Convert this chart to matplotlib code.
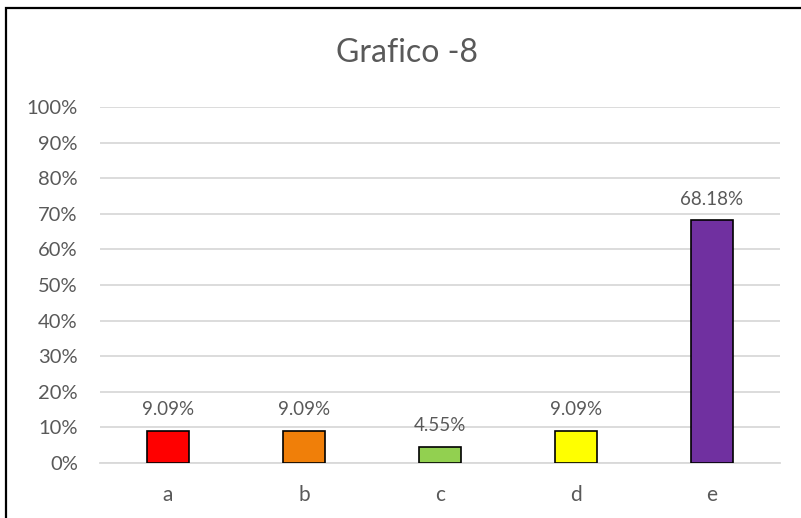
import matplotlib.pyplot as plt
from matplotlib.patches import Rectangle

plt.rcParams['font.family'] = ['Lato', 'DejaVu Sans']

# datos
categorias = ['a', 'b', 'c', 'd', 'e']
valores = [9.09, 9.09, 4.55, 9.09, 68.18]
colores = ['#FF0000', '#F07F09', '#92D050', '#FFFF00', '#7030A0']
yticks = list(range(0, 101, 10))
gris = '#595959'

fig = plt.figure(figsize=(8.01, 5.18), dpi=100)
ax = fig.add_axes([100 / 801, 55 / 518, 680 / 801, 356 / 518])

x = list(range(len(categorias)))
barras = ax.bar(x, valores, width=0.31, color=colores, edgecolor='black', linewidth=1.2, zorder=3)

for b, v in zip(barras, valores):
    ax.annotate('%.2f%%' % v, (b.get_x() + b.get_width() / 2, v),
                xytext=(0, 9), textcoords='offset points',
                ha='center', va='bottom', fontsize=13.5, color=gris)

ax.set_xlim(-0.5, 4.5)
ax.set_ylim(0, 100)
ax.set_yticks(yticks)
ax.set_yticklabels(['%d%%' % t for t in yticks])
ax.set_xticks(x)
ax.set_xticklabels(categorias)
ax.tick_params(axis='y', length=0, pad=16, labelsize=14.5, labelcolor=gris)
ax.tick_params(axis='x', length=0, pad=16, labelsize=15, labelcolor=gris)
ax.grid(axis='y', color='#D9D9D9', linewidth=1.3, zorder=0)
for s in ['top', 'right', 'left']:
    ax.spines[s].set_visible(False)
ax.spines['bottom'].set_color('#D9D9D9')
ax.spines['bottom'].set_linewidth(1.3)

fig.text(407 / 801, 1 - 53 / 518, 'Grafico -8', ha='center', va='center', fontsize=23, color=gris)

# borde del grafico
fig.add_artist(Rectangle((6 / 801, -0.1), 1.2, (1 - 8 / 518) + 0.1, transform=fig.transFigure,
                         fill=False, edgecolor='black', linewidth=1.6))

fig.savefig('out.png', dpi=100)
